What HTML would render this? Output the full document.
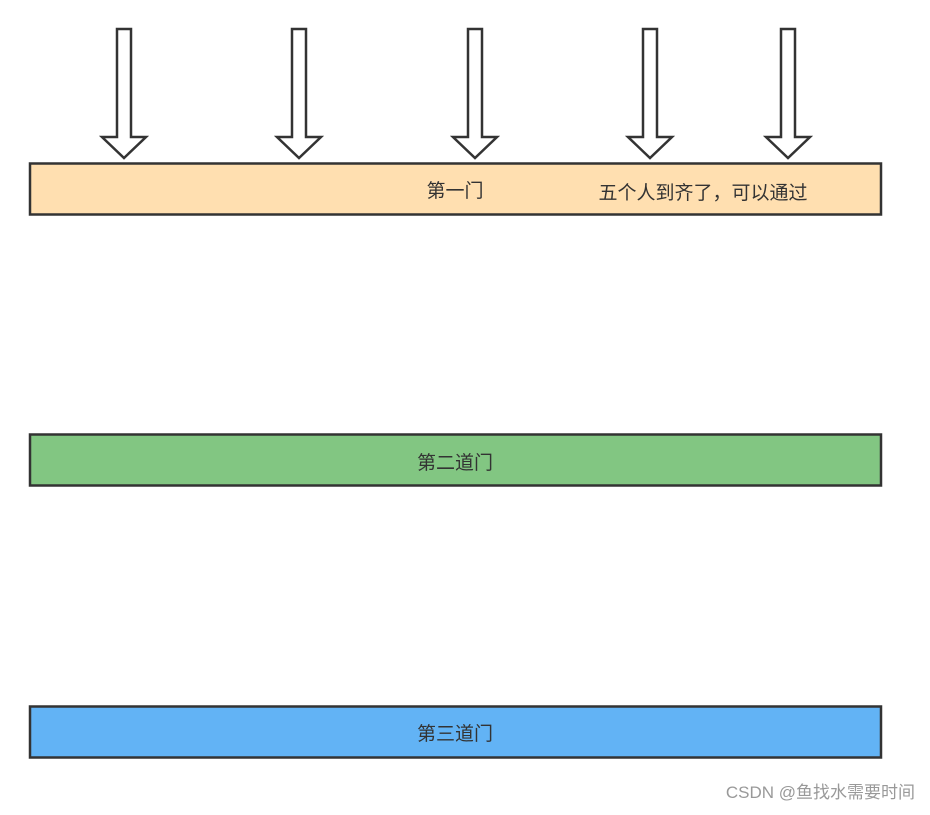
<!DOCTYPE html>
<html><head><meta charset="utf-8"><style>body{margin:0;background:#fff}</style></head><body>
<svg width="930" height="810" xmlns="http://www.w3.org/2000/svg" font-family="Liberation Sans, Noto Sans CJK SC, sans-serif" font-size="19" fill="#333">
<defs><path id="a" d="M-7,29 H7 V137 H22 L0,158 L-22,137 H-7 Z" fill="#fff" stroke="#333" stroke-width="2.5" stroke-linejoin="miter"/></defs>
<use href="#a" x="124"/><use href="#a" x="299"/><use href="#a" x="475"/><use href="#a" x="650"/><use href="#a" x="788"/>
<rect x="30" y="163.5" width="851" height="51" fill="#ffdfb0" stroke="#333" stroke-width="2.5"/>
<rect x="30" y="434.5" width="851" height="51" fill="#82c682" stroke="#333" stroke-width="2.5"/>
<rect x="30" y="706.5" width="851" height="51" fill="#62b3f5" stroke="#333" stroke-width="2.5"/>
<text x="455" y="197" text-anchor="middle">第一门</text>
<text x="703" y="199" text-anchor="middle">五个人到齐了，可以通过</text>
<text x="455" y="469" text-anchor="middle">第二道门</text>
<text x="455" y="740" text-anchor="middle">第三道门</text>
<text x="915" y="798" text-anchor="end" font-size="17" fill="#999">CSDN @鱼找水需要时间</text>
</svg>
</body></html>
